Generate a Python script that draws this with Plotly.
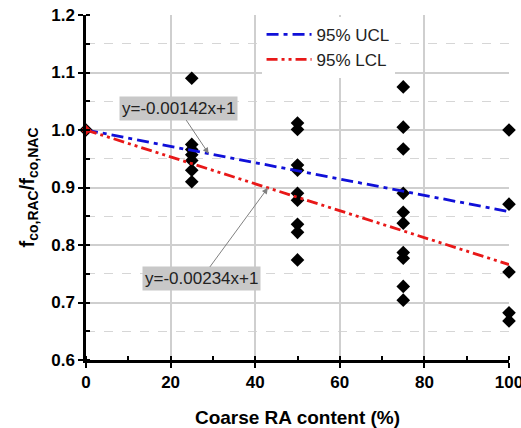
import plotly.graph_objects as go

# Data
x25 = [25] * 7
y25 = [1.09, 0.975, 0.966, 0.957, 0.947, 0.930, 0.910]
x50 = [50] * 9
y50 = [1.012, 1.001, 0.939, 0.930, 0.890, 0.878, 0.836, 0.822, 0.774]
x75 = [75] * 10
y75 = [1.075, 1.005, 0.967, 0.890, 0.857, 0.838, 0.787, 0.777, 0.728, 0.704]
x100 = [100] * 5
y100 = [1.0, 0.871, 0.753, 0.682, 0.668]

line_x = [0, 100]
ucl_slope = -0.00142
lcl_slope = -0.00234
ucl_y = [1 + ucl_slope * v for v in line_x]
lcl_y = [1 + lcl_slope * v for v in line_x]

xs = [0] + x25 + x50 + x75 + x100
ys = [1.0] + y25 + y50 + y75 + y100

FONT = "Liberation Sans, Arial, sans-serif"

fig = go.Figure()
fig.add_trace(go.Scatter(
    x=xs, y=ys, mode="markers", showlegend=False, cliponaxis=False,
    marker=dict(symbol="diamond", size=10.5, color="black"),
))
fig.add_trace(go.Scatter(
    x=line_x, y=ucl_y, mode="lines", name="95% UCL", cliponaxis=False,
    line=dict(color="#1010d8", width=2.8, dash="12px,5px,4px,5px"),
))
fig.add_trace(go.Scatter(
    x=line_x, y=lcl_y, mode="lines", name="95% LCL", cliponaxis=False,
    line=dict(color="#e81818", width=2.8, dash="11px,4px,3px,4px,3px,4px"),
))
fig.add_trace(go.Scatter(
    x=[0], y=[1.0], mode="markers", showlegend=False, cliponaxis=False,
    marker=dict(symbol="diamond", size=8, color="#e81818"),
))

def eq_label(slope):
    return "y=%sx+1" % ("%.5f" % slope).rstrip("0")

ann_common = dict(
    xref="x", yref="y", axref="x", ayref="y",
    showarrow=True, arrowhead=2, arrowsize=1.2, arrowwidth=1,
    arrowcolor="#808080", bgcolor="#c8c8c8", borderpad=2,
    font=dict(family=FONT, size=17, color="#222"),
)
fig.add_annotation(text=eq_label(ucl_slope), x=29, y=1 + ucl_slope * 29,
                   ax=21.8, ay=1.038, **ann_common)
fig.add_annotation(text=eq_label(lcl_slope), x=43, y=1 + lcl_slope * 43,
                   ax=27.2, ay=0.741, **ann_common)

fig.update_layout(
    width=521, height=428,
    margin=dict(l=86, r=12, t=15, b=68, autoexpand=False),
    paper_bgcolor="white", plot_bgcolor="white",
    font=dict(family=FONT, color="black"),
    legend=dict(x=0.415, y=0.995, xanchor="left", yanchor="top",
                bgcolor="white", itemwidth=45, tracegroupgap=0,
                font=dict(family=FONT, size=17, color="#222")),
)
fig.update_xaxes(
    range=[0, 100], tick0=0, dtick=20, ticklabeloverflow="allow",
    automargin=False,
    showline=True, linecolor="black", linewidth=2.5,
    ticks="outside", ticklen=5, tickwidth=2, tickcolor="black",
    tickfont=dict(family=FONT, size=17, weight="bold"),
    showgrid=True, gridcolor="#cfcfcf", gridwidth=1.5, zeroline=False,
    minor=dict(dtick=10, ticks="inside", ticklen=4, tickwidth=1.5,
               tickcolor="black", showgrid=False),
    title=dict(text="Coarse RA content (%)", standoff=20,
               font=dict(family=FONT, size=19, weight="bold")),
)
fig.update_yaxes(
    range=[0.6, 1.2], tick0=0.6, dtick=0.1, tickformat=".1f",
    automargin=False,
    showline=True, linecolor="black", linewidth=2.5,
    ticks="outside", ticklen=5, tickwidth=2, tickcolor="black",
    tickfont=dict(family=FONT, size=17, weight="bold"),
    showgrid=True, gridcolor="#cfcfcf", gridwidth=1.5, zeroline=False,
    minor=dict(dtick=0.05, tick0=0.6, ticks="inside", ticklen=4, tickwidth=1.5,
               tickcolor="black", showgrid=True, gridcolor="#d6d6d6",
               griddash="dash", gridwidth=1),
    title=dict(text="<b>f<sub>co,RAC</sub>/f<sub>co,NAC</sub></b>", standoff=12,
               font=dict(family=FONT, size=20)),
)

fig.write_html("out.html")
